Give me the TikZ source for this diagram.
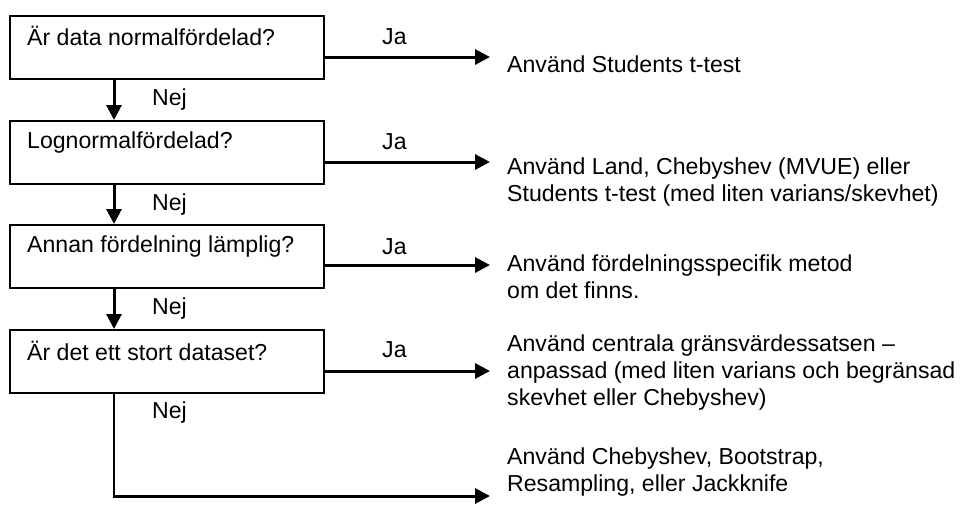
\documentclass[tikz,border=0pt]{standalone}
\usepackage{fontspec}
\setmainfont{Liberation Sans}
\usetikzlibrary{arrows.meta}
\begin{document}
\begin{tikzpicture}[x=1pt,y=-1pt,
  every node/.style={font=\fontsize{23.1}{27}\selectfont, inner sep=0pt},
  qbox/.style={draw, line width=2pt, minimum width=314pt, minimum height=63pt, anchor=north west},
  qtext/.style={anchor=west},
  lbl/.style={anchor=west},
  res/.style={anchor=west, align=left},
  arr/.style={line width=3pt, -{Triangle[length=15pt,width=15pt]}},
  plain/.style={line width=2pt}]
\useasboundingbox (0,0) rectangle (960,514);
% boxes
\node[qbox] (b1) at (9,15) {};
\node[qbox] (b2) at (9,120) {};
\node[qbox] (b3) at (9,224) {};
\node[qbox] (b4) at (9,329) {};
\node[qtext] (t1) at (27,36) {Är data normalfördelad?};
\node[qtext] (t2) at (27,143) {Lognormalfördelad?};
\node[qtext] (t3) at (27,247) {Annan fördelning lämplig?};
\node[qtext] (t4) at (27,351) {Är det ett stort dataset?};
% results
\node[res] (r1) at (507,64) {Använd Students t-test};
\node[res] (r2) at (507,182) {Använd Land, Chebyshev (MVUE) eller\\Students t-test (med liten varians/skevhet)};
\node[res] (r3) at (507,277) {Använd fördelningsspecifik metod\\om det finns.};
\node[res] (r4) at (507,373) {Använd centrala gränsvärdessatsen –\\anpassad (med liten varians och begränsad\\skevhet eller Chebyshev)};
\node[res] (r5) at (507,472) {Använd Chebyshev, Bootstrap,\\Resampling, eller Jackknife};
% labels
\node[lbl] (j1) at (382,37) {Ja};
\node[lbl] (j2) at (382,142) {Ja};
\node[lbl] (j3) at (382,247) {Ja};
\node[lbl] (j4) at (382,350) {Ja};
\node[lbl] (n1) at (152,100) {Nej};
\node[lbl] (n2) at (152,205) {Nej};
\node[lbl] (n3) at (152,309) {Nej};
\node[lbl] (n4) at (152,413) {Nej};
% arrow ends
\coordinate (e1) at (490,57);
\coordinate (e2) at (490,162);
\coordinate (e3) at (490,265);
\coordinate (e4) at (490,371);
\coordinate (e5) at (490,496);
\coordinate (c5) at (114,496);
% yes arrows
\draw[arr] (b1.east |- e1) -- (e1);
\draw[arr] (b2.east |- e2) -- (e2);
\draw[arr] (b3.east |- e3) -- (e3);
\draw[arr] (b4.east |- e4) -- (e4);
% no arrows
\draw[arr] (b1.south -| c5) -- (b2.north -| c5);
\draw[arr] (b2.south -| c5) -- (b3.north -| c5);
\draw[arr] (b3.south -| c5) -- (b4.north -| c5);
\draw[plain] (b4.south -| c5) -- ([yshift=1.5pt]c5);
\draw[arr] ([xshift=-1pt]c5) -- (e5);
\end{tikzpicture}
\end{document}
